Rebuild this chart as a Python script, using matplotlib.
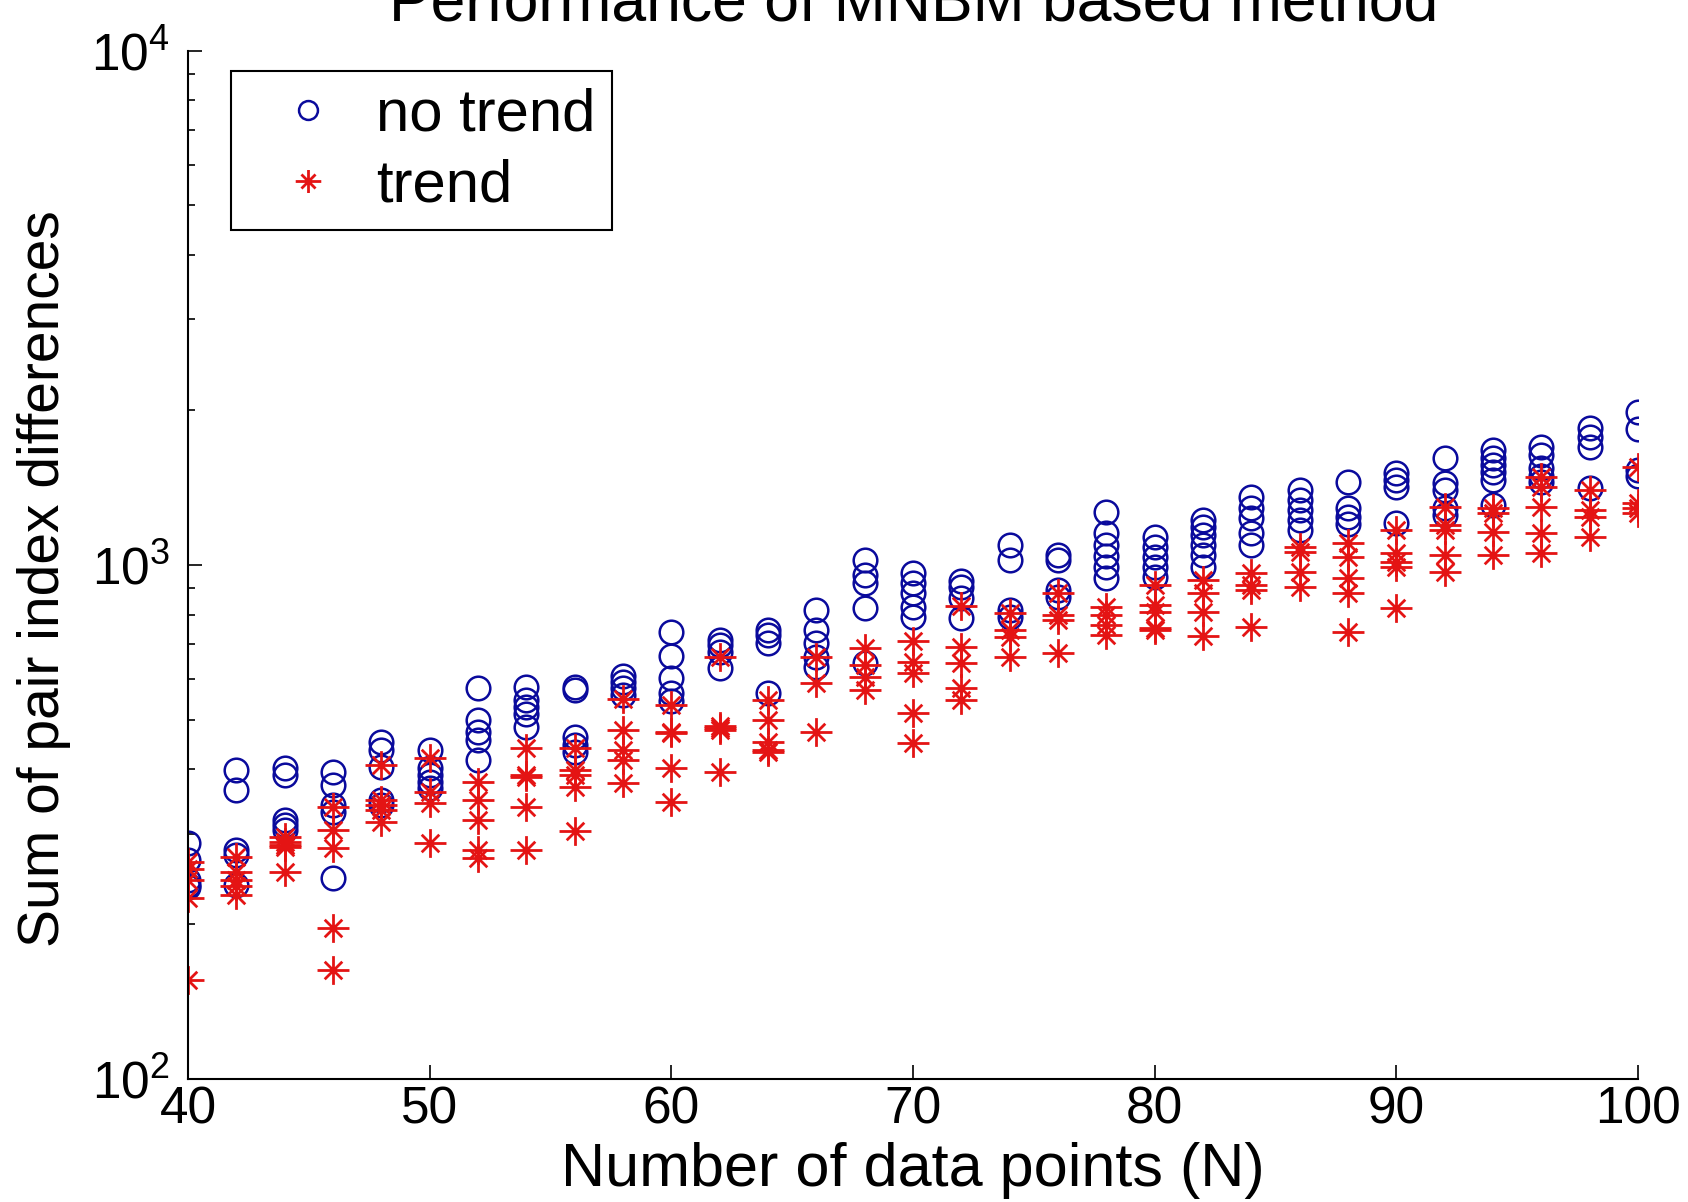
import numpy as np
import matplotlib.pyplot as plt
from matplotlib.path import Path

plt.rcParams['font.family'] = ['Liberation Sans', 'DejaVu Sans']
plt.rcParams['mathtext.default'] = 'regular'

# number of data points (x positions)
n_points = [40, 42, 44, 46, 48, 50, 52, 54, 56, 58, 60, 62, 64, 66, 68, 70,
            72, 74, 76, 78, 80, 82, 84, 86, 88, 90, 92, 94, 96, 98, 100]

# sum of pair index differences, several runs per N
no_trend = [
    [288, 267, 244, 238, 236], [399, 365, 279, 273, 238], [403, 390, 319, 312, 305],
    [395, 373, 341, 331, 246], [453, 437, 404, 349, 341], [436, 403, 390, 378, 368],
    [576, 499, 473, 457, 417], [579, 546, 529, 513, 484], [579, 572, 463, 447, 432],
    [608, 592, 576, 559], [741, 666, 603, 564, 544], [714, 699, 677, 631],
    [748, 731, 705, 564], [817, 748, 705, 662, 634], [1024, 957, 923, 825, 644],
    [964, 922, 882, 828, 792], [931, 906, 863, 789], [1094, 1024, 817, 792],
    [1045, 1024, 893, 866], [1268, 1154, 1094, 1042, 991, 944],
    [1133, 1083, 1037, 991, 948], [1224, 1186, 1143, 1094, 1045, 991],
    [1355, 1291, 1234, 1154, 1094], [1400, 1337, 1279, 1224, 1170],
    [1449, 1291, 1240, 1202], [1511, 1463, 1418, 1208],
    [1615, 1444, 1400, 1291, 1251], [1674, 1615, 1566, 1517, 1463, 1309],
    [1698, 1637, 1545, 1491, 1449], [1849, 1775, 1698, 1413], [1986, 1833, 1531, 1491],
]
trend = [
    [264, 256, 244, 225, 156], [270, 253, 244, 237, 228], [296, 289, 285, 283, 253],
    [338, 305, 281, 197, 163], [408, 349, 341, 333, 316], [421, 362, 344, 288],
    [378, 349, 319, 279, 269], [441, 390, 386, 338, 279], [440, 399, 390, 370, 303],
    [548, 477, 437, 417, 377], [534, 473, 470, 403, 346], [662, 486, 481, 477, 396],
    [546, 499, 453, 437, 433], [662, 589, 473], [690, 639, 605, 571],
    [711, 647, 616, 515, 451], [832, 692, 644, 576, 546], [807, 748, 724, 662],
    [883, 800, 782, 674], [828, 800, 764, 731], [914, 836, 810, 754, 747],
    [935, 883, 810, 728], [964, 914, 893, 757], [1084, 1060, 969, 906],
    [1104, 1037, 944, 883, 741], [1170, 1055, 1013, 991, 825],
    [1297, 1197, 1170, 1045, 969], [1291, 1262, 1158, 1045],
    [1482, 1418, 1297, 1154, 1055], [1400, 1279, 1240, 1133], [1553, 1321, 1291, 1262],
]


def flatten(groups):
    xs, ys = [], []
    for n, vals in zip(n_points, groups):
        xs += [n] * len(vals)
        ys += vals
    return np.array(xs), np.array(ys)


# matlab style asterisk marker
star = Path([(-1, 0), (1, 0), (0, -0.9), (0, 0.9),
             (-0.55, -0.55), (0.55, 0.55), (-0.55, 0.55), (0.55, -0.55)],
            [Path.MOVETO, Path.LINETO] * 4)

blue = '#0a0a9c'
red = '#e41414'

fig = plt.figure(figsize=(16.88, 12.02), dpi=100)
ax = fig.add_axes([0.1114, 0.1023, 0.8590, 0.8556])

x1, y1 = flatten(no_trend)
x2, y2 = flatten(trend)
ax.plot(x1, y1, linestyle='none', marker='o', ms=17, mfc='none', mec=blue,
        mew=1.8, label='no trend')
ax.plot(x2, y2, linestyle='none', marker=star, ms=23, mfc='none', mec=red,
        mew=2.0, label='trend')

ax.set_yscale('log')
ax.set_xlim(40, 100)
ax.set_ylim(100, 10000)
ax.set_xticks(range(40, 101, 10))

for s in ['top', 'right']:
    ax.spines[s].set_visible(False)
for s in ['left', 'bottom']:
    ax.spines[s].set_linewidth(1.5)

ax.tick_params(which='major', direction='in', length=10, width=1.2,
               labelsize=37)
ax.tick_params(which='minor', direction='in', length=5, width=1.2)
ax.tick_params(axis='x', pad=5)
ax.tick_params(axis='y', pad=13)

ax.set_xlabel('Number of data points (N)', fontsize=44)
ax.xaxis.set_label_coords(0.5, -0.061)
ax.set_ylabel('Sum of pair index differences', fontsize=41)
ax.yaxis.set_label_coords(-0.081, 0.487)

fig.text(0.541, 0.983, 'Performance of MNBM based method', fontsize=45,
         ha='center', va='baseline')

leg = ax.legend(loc='upper left', bbox_to_anchor=(0.0297, 0.980), borderaxespad=0,
                fancybox=False, edgecolor='black', framealpha=1, fontsize=43,
                markerscale=0.8, handlelength=2.0, handletextpad=0.14,
                borderpad=0.28, labelspacing=0.26)
leg.get_frame().set_linewidth(1.5)

fig.savefig('out.png', dpi=100)
